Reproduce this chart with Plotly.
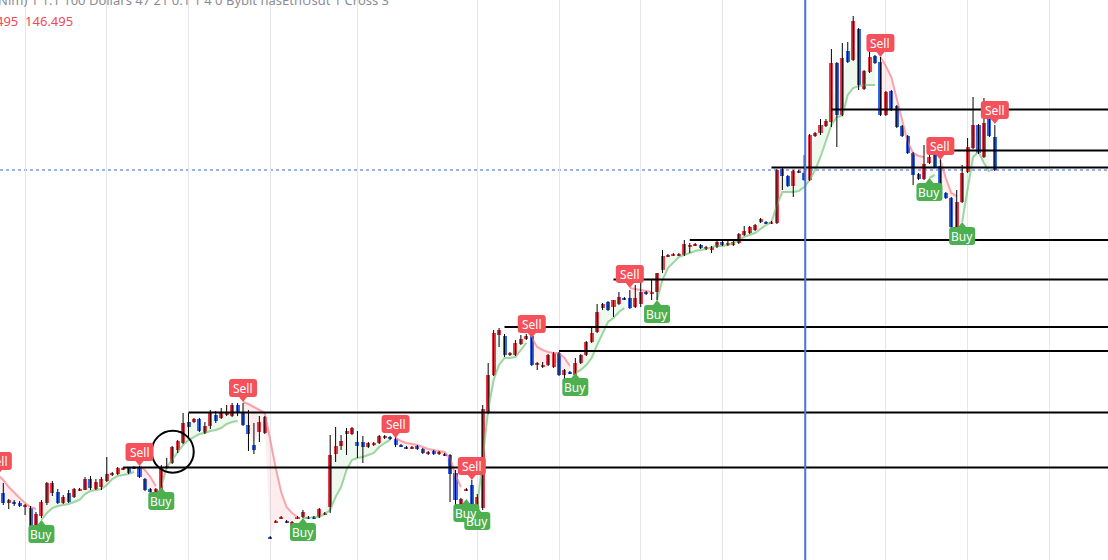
import plotly.graph_objects as go

# ---------------- data (price units) ----------------
idx = list(range(-1, 183))

opens = [82, 67, 57, 58, 57, 53, 52, 34, 44, 57, 67, 68, 57, 67, 63, 70, 70, 81, 71, 73,
         79, 85, 86, 91, 92, 92, 93, 81, 71, 68, 67, 92, 97, 110, 117, 138, 138, 141, 127, 134,
         145, 142, 145, 144, 155, 147, 135, 115, 128, 127, 23, 38, 42, 39, 33, 42, 43, 43, 43, 43,
         46, 53, 106, 114, 126, 126, 118, 118, 113, 115, 117, 122, 123, 121, 115, 113, 112, 114, 111, 106,
         109, 106, 106, 105, 87, 55, 70, 75, 52, 52, 147, 185, 225, 224, 205, 205, 216, 221, 224, 195,
         193, 195, 193, 207, 185, 188, 185, 197, 205, 218, 228, 252, 258, 253, 256, 262, 262, 253, 256, 268,
         267, 268, 290, 304, 305, 305, 305, 314, 315, 315, 311, 310, 313, 318, 315, 315, 317, 325, 327, 330,
         338, 338, 337, 337, 391, 384, 374, 388, 387, 380, 424, 427, 434, 438, 497, 445, 509, 500, 531, 471,
         488, 504, 498, 445, 469, 454, 434, 424, 407, 386, 381, 397, 406, 394, 367, 362, 318, 358, 388, 412,
         435, 403, 442, 423]
highs = [85, 77, 61, 60, 59, 56, 54, 48, 60, 78, 79, 71, 65, 70, 72, 72, 83, 84, 81, 83,
         103, 88, 93, 93, 93, 94, 94, 82, 72, 72, 95, 102, 114, 120, 147, 147, 142, 142, 138, 150,
         149, 152, 155, 157, 157, 157, 150, 137, 144, 144, 24, 40, 44, 40, 39, 44, 50, 44, 44, 52,
         48, 125, 133, 125, 132, 133, 129, 124, 118, 118, 125, 125, 124, 123, 116, 114, 114, 115, 112, 109,
         110, 109, 107, 106, 90, 62, 72, 80, 66, 155, 197, 230, 232, 226, 208, 220, 225, 226, 227, 198,
         198, 206, 208, 208, 191, 189, 202, 206, 219, 233, 256, 257, 259, 260, 268, 263, 270, 275, 282, 269,
         280, 287, 310, 306, 307, 307, 320, 317, 317, 316, 314, 314, 319, 319, 320, 319, 327, 334, 334, 336,
         342, 339, 339, 391, 392, 385, 390, 390, 405, 426, 428, 441, 441, 511, 498, 517, 518, 544, 532, 490,
         511, 505, 503, 469, 470, 455, 435, 425, 408, 387, 415, 410, 407, 401, 368, 363, 370, 395, 422, 463,
         436, 462, 443, 435]
lows = [68, 55, 51, 54, 53, 45, 31, 30, 42, 55, 64, 56, 56, 57, 62, 69, 70, 70, 70, 70,
        78, 84, 85, 90, 86, 91, 82, 69, 67, 67, 66, 91, 96, 107, 116, 123, 137, 128, 126, 131,
        137, 141, 144, 143, 144, 134, 109, 106, 118, 126, 21, 37, 41, 37, 32, 41, 42, 41, 41, 42,
        45, 47, 98, 110, 105, 125, 102, 97, 112, 114, 116, 121, 120, 113, 113, 111, 111, 110, 106, 105,
        105, 105, 104, 58, 55, 54, 69, 54, 50, 50, 146, 184, 213, 203, 204, 204, 215, 220, 194, 190,
        192, 194, 192, 184, 176, 186, 184, 196, 204, 217, 227, 250, 249, 243, 255, 260, 251, 252, 253, 265,
        260, 260, 287, 303, 304, 304, 304, 307, 314, 311, 310, 307, 312, 314, 314, 314, 316, 324, 326, 329,
        337, 336, 336, 336, 370, 373, 363, 387, 379, 379, 423, 425, 433, 433, 413, 444, 497, 499, 470, 470,
        487, 496, 444, 444, 449, 432, 423, 406, 375, 380, 380, 396, 392, 369, 361, 332, 317, 357, 387, 411,
        406, 402, 423, 389]
closes = [70, 57, 60, 56, 54, 55, 34, 46, 58, 77, 77, 57, 63, 58, 71, 71, 81, 72, 78, 81,
          86, 87, 92, 92, 87, 93, 83, 70, 68, 71, 92, 94, 113, 119, 137, 133, 141, 129, 134, 147,
          139, 148, 148, 155, 148, 135, 126, 110, 138, 143, 22, 39, 43, 38, 38, 43, 48, 42, 42, 51,
          47, 105, 114, 119, 129, 132, 114, 113, 117, 117, 124, 124, 121, 115, 114, 112, 113, 111, 107, 108,
          106, 108, 105, 86, 60, 61, 71, 55, 63, 151, 185, 227, 230, 205, 207, 217, 221, 224, 195, 197,
          195, 205, 207, 185, 190, 187, 197, 205, 218, 227, 248, 256, 250, 260, 263, 261, 252, 262, 268, 266,
          268, 287, 304, 305, 306, 306, 316, 315, 316, 312, 313, 313, 318, 315, 317, 318, 326, 329, 333, 335,
          341, 337, 338, 390, 384, 374, 389, 389, 380, 425, 427, 435, 439, 497, 445, 502, 498, 539, 475, 489,
          503, 497, 445, 468, 450, 433, 424, 407, 385, 381, 396, 403, 393, 370, 362, 333, 358, 387, 413, 435,
          407, 437, 424, 390]

# trend-following stop line (one value per candle) and its direction runs
trend_line = [85, 80, 73, 67, 62, 57, 53, 51,
              40, 47, 52, 54, 55, 56, 58, 60, 66, 69, 70, 71, 75, 81, 84, 85, 86, 88,
              94, 90, 83, 74,
              73, 93, 100, 107, 115, 120, 123, 126, 127, 129, 130, 132, 136, 138, 139,
              158, 156, 153, 150, 147, 120, 92, 68, 53, 47, 43,
              42, 42, 43, 43, 46, 50, 63, 73, 90, 100, 102, 103, 105, 107, 113, 117, 120,
              122, 119, 117, 116, 115, 113, 111, 110, 109, 108, 102, 85, 73,
              61,
              80,
              53, 100, 150, 180, 195, 202, 202, 203, 210, 217,
              222, 213, 210, 208, 207, 207, 202, 194,
              187, 190, 195, 202, 215, 227, 238, 242, 248, 252,
              272, 271, 270, 269, 268,
              260, 280, 292, 298, 303, 305, 307, 309, 310, 311, 313, 314, 314, 315, 317, 320, 323, 325,
              327, 331, 335, 338, 355, 368, 368, 368, 369, 373, 380, 390, 403, 418, 435, 443, 444, 465,
              472, 474, 475, 475, 475,
              503, 494, 483, 462, 440, 418, 407, 404, 403,
              382, 385,
              400, 382, 367, 364,
              338, 370, 403, 408, 397, 388,
              436]
trend_runs = [(-1, 8), (1, 18), (-1, 4), (1, 15), (-1, 11), (1, 17), (-1, 13), (1, 1), (-1, 1),
              (1, 10), (-1, 8), (1, 10), (-1, 5), (1, 41), (-1, 9), (1, 2), (-1, 4), (1, 6), (-1, 1)]

# horizontal levels: start candle and price
level_start = [22, 34, 92, 102, 112, 126, 141, 152, 172]
level_price = [92.5, 147.5, 233, 209, 280.5, 320, 392.5, 450.5, 409.5]

grid_idx = [4, 19, 34, 49, 65, 87, 102, 117, 132, 147, 162, 177, 192]
cursor_idx = 147.2
circle_center = (31.1, 108.3)

header_text = "Nim) 1 1.1 100 Dollars 47 21 0.1 1 4 0 Bybit hasEthUsdt 1 Cross 3"
value_text = "495  146.495"

# ---------------- styling ----------------
UP = "#f23a4b"
DOWN = "#2f66f2"
GREEN_LINE = "rgba(120,196,124,0.7)"
PINK_LINE = "rgba(244,130,140,0.7)"
GREEN_FILL = "rgba(76,175,80,0.09)"
PINK_FILL = "rgba(242,54,69,0.09)"
LBL_GREEN = "#4caf50"
LBL_RED = "#f5515a"
X_RANGE = [-0.606, 202.77]
PX_PER_BAR = 1108 / (X_RANGE[1] - X_RANGE[0])

trend_dir = []
for d, n in trend_runs:
    trend_dir += [d] * n

ohlc4 = [(o + h + l + c) / 4 for o, h, l, c in zip(opens, highs, lows, closes)]

fig = go.Figure()

# trend segments with fills
start = 0
N = len(idx)
for k in range(1, N + 1):
    if k == N or trend_dir[k] != trend_dir[start]:
        seg = list(range(start, k))
        if len(seg) >= 2:
            up = trend_dir[start] == 1
            xs = [idx[j] for j in seg]
            fig.add_trace(go.Scatter(x=xs, y=[ohlc4[j] for j in seg], mode="lines",
                                     line=dict(width=0), hoverinfo="skip", showlegend=False))
            fig.add_trace(go.Scatter(x=xs, y=[trend_line[j] for j in seg], mode="lines",
                                     line=dict(color=GREEN_LINE if up else PINK_LINE, width=2),
                                     fill="tonexty", fillcolor=GREEN_FILL if up else PINK_FILL,
                                     hoverinfo="skip", showlegend=False))
        start = k

# wicks
wx, wy = [], []
for i, h, l in zip(idx, highs, lows):
    wx += [i, i, None]
    wy += [l, h, None]
fig.add_trace(go.Scatter(x=wx, y=wy, mode="lines", line=dict(color="#000000", width=1),
                         hoverinfo="skip", showlegend=False))

# bodies
bases, heights, cols = [], [], []
for o, c in zip(opens, closes):
    lo_, hi_ = min(o, c), max(o, c)
    hgt = max(hi_ - lo_, 1.4)
    bases.append((lo_ + hi_) / 2 - hgt / 2)
    heights.append(hgt)
    cols.append(UP if c >= o else DOWN)
fig.add_trace(go.Bar(x=idx, y=heights, base=bases, marker=dict(color=cols, line=dict(width=0)),
                     width=0.74, hoverinfo="skip", showlegend=False))

shapes = []
annotations = []

# levels
for s, p in zip(level_start, level_price):
    shapes.append(dict(type="line", xref="x", yref="y", x0=s, x1=260, y0=p, y1=p,
                       line=dict(color="#000000", width=2), layer="above"))

# last price dotted line
shapes.append(dict(type="line", xref="paper", yref="y", x0=0, x1=1, y0=closes[-1], y1=closes[-1],
                   line=dict(color="#3d5fe0", width=1, dash="dot"), layer="below"))
# vertical cursor line
shapes.append(dict(type="line", xref="x", yref="paper", x0=cursor_idx, x1=cursor_idx, y0=0, y1=1,
                   line=dict(color="#4a76e0", width=2), layer="above"))
# circle
shapes.append(dict(type="circle", xref="x", yref="y", xsizemode="pixel", ysizemode="pixel",
                   xanchor=circle_center[0], yanchor=circle_center[1],
                   x0=-21, x1=21, y0=-21, y1=21, line=dict(color="#000000", width=2)))


def label_path(w, s):
    # s = -1: box below tip (Buy), s = +1: box above tip (Sell)
    t, b, r = 5, 23, 3
    pts = [(0, 0), (4, t), (w - r, t), ("Q", w, t, w, t + r), (w, b - r), ("Q", w, b, w - r, b),
           (-w + r, b), ("Q", -w, b, -w, b - r), (-w, t + r), ("Q", -w, t, -w + r, t), (-4, t)]
    out = []
    for n, p in enumerate(pts):
        if p[0] == "Q":
            out.append(f"Q {p[1]} {s * p[2]} {p[3]} {s * p[4]}")
        else:
            out.append(("M" if n == 0 else "L") + f" {p[0]} {s * p[1]}")
    return " ".join(out) + " Z"


# signals
for k in range(N):
    if k == 0 or trend_dir[k] != trend_dir[k - 1]:
        i = idx[k]
        p = trend_line[k]
        buy = trend_dir[k] == 1
        col = LBL_GREEN if buy else LBL_RED
        s = -1 if buy else 1
        ax = max(i, X_RANGE[0] + 0.001)
        xsh = (i - ax) * PX_PER_BAR
        shapes.append(dict(type="path", xref="x", yref="y", xsizemode="pixel", ysizemode="pixel",
                           xanchor=i, yanchor=p, path=label_path(13 if buy else 14, s),
                           fillcolor=col, line=dict(width=0)))
        annotations.append(dict(x=ax, y=p, xref="x", yref="y", text="Buy" if buy else "Sell",
                                showarrow=False, yshift=14 * s, xshift=xsh,
                                font=dict(color="white", size=12, family="Noto Sans")))

annotations.append(dict(x=0, y=1, xref="paper", yref="paper", xanchor="left", yanchor="middle",
                        text=header_text, showarrow=False, yshift=0, xshift=-4,
                        font=dict(color="#8a8d97", size=13, family="Noto Sans")))
annotations.append(dict(x=0, y=1, xref="paper", yref="paper", xanchor="left", yanchor="middle",
                        text=value_text, showarrow=False, yshift=-21, xshift=-6,
                        font=dict(color="#f04a55", size=13, family="Noto Sans")))

fig.update_layout(
    width=1108, height=560, margin=dict(l=0, r=0, t=0, b=0),
    paper_bgcolor="white", plot_bgcolor="white",
    xaxis=dict(range=X_RANGE, tickvals=grid_idx, showticklabels=False, ticks="",
               showgrid=True, gridcolor="#e4e7ee", gridwidth=1, zeroline=False, showline=False),
    yaxis=dict(range=[0, 560], showgrid=False, showticklabels=False, ticks="", zeroline=False,
               showline=False),
    shapes=shapes, annotations=annotations, bargap=0, showlegend=False,
)

fig.write_html("out.html", config={"displayModeBar": False},
               post_script="document.body.style.margin='0';document.body.style.overflow='hidden';")
